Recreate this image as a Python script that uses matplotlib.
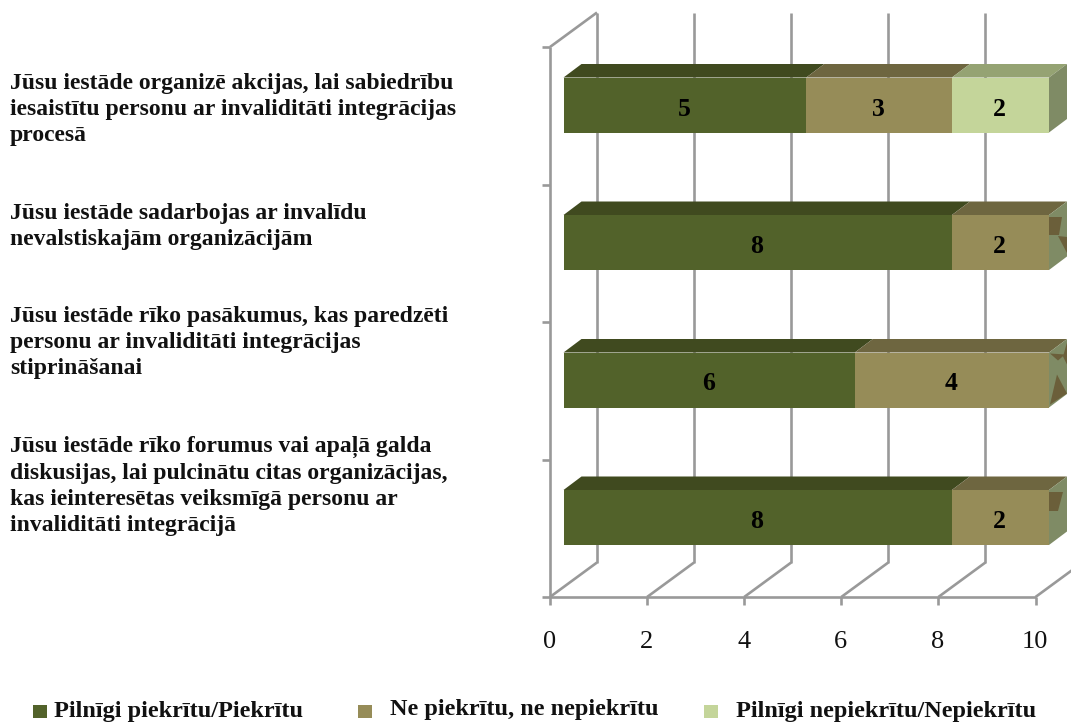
import matplotlib
matplotlib.use("Agg")
import matplotlib.pyplot as plt
from matplotlib.patches import Polygon, Rectangle

W, H = 1071, 722
categories = [
    "Jūsu iestāde rīko forumus vai apaļā galda\ndiskusijas, lai pulcinātu citas organizācijas,\nkas ieinteresētas veiksmīgā personu ar\ninvaliditāti integrācijā",
    "Jūsu iestāde rīko pasākumus, kas paredzēti\npersonu ar invaliditāti integrācijas\nstiprināšanai",
    "Jūsu iestāde sadarbojas ar invalīdu\nnevalstiskajām organizācijām",
    "Jūsu iestāde organizē akcijas, lai sabiedrību\niesaistītu personu ar invaliditāti integrācijas\nprocesā",
]
series_names = ["Pilnīgi piekrītu/Piekrītu", "Ne piekrītu, ne nepiekrītu", "Pilnīgi nepiekrītu/Nepiekrītu"]
agree = [8, 6, 8, 5]
neutral = [2, 4, 2, 3]
disagree = [0, 0, 0, 2]
x_ticks = [0, 2, 4, 6, 8, 10]
label_tops = [436, 306, 203, 73]

front = ["#52622a", "#968c58", "#c4d59a"]
top = ["#404a1f", "#6e6640", "#95a373"]
side = "#7f8b65"
artefact = "#6b5f3a"
grid = "#999999"
FONT = "Liberation Serif"

X0, UX = 550.0, 48.55      # pixel of value 0, pixels per value unit
Y0, UY = 597.0, 137.5      # pixel of category edge 0, pixels per category

fig = plt.figure(figsize=(W / 100, H / 100), dpi=100, facecolor="white")
ax = fig.add_axes([0, 0, 1, 1])
ax.set_xlim(-X0 / UX, (W - X0) / UX)
ax.set_ylim((Y0 - H) / UY, Y0 / UY)
ax.axis("off")

dx = lambda p: p / UX
dy = lambda p: p / UY
ny = len(categories)
LW = 1.9
lk = dict(color=grid, lw=LW, solid_capstyle="butt", zorder=1)
BX, BY = dx(47), dy(34.5)

# walls and grid
ax.plot([0, 0], [0, ny], **lk)
ax.plot([0, x_ticks[-1]], [0, 0], **lk)
ax.plot([0, BX], [ny, ny + BY], **lk)
for t in x_ticks:
    ax.plot([t, t], [0, -dy(8)], **lk)
    ax.plot([t, t + BX], [0, BY], **lk)
    ax.plot([t + BX] * 2, [BY, ny + BY], **lk)
    ax.text(t - dx(0.5), -dy(45), str(t), family=FONT, fontsize=19, ha="center", va="center", color="#111111")
for i in range(ny + 1):
    ax.plot([0, -dx(8)], [i, i], **lk)

# stacked 3D bars
BAR_H = dy(55)
OFF_X, OFF_Y = dx(13.5), dy(52)
DX, DY = dx(18), dy(13.5)
stack = list(zip(agree, neutral, disagree))
for i, vals in enumerate(stack):
    y = i + OFF_Y
    left = 0.0
    for j, v in enumerate(vals):
        if v == 0:
            continue
        x = left + OFF_X
        ax.add_patch(Rectangle((x, y), v, BAR_H, fc=front[j], ec="none", zorder=3))
        ax.add_patch(Polygon([(x, y + BAR_H), (x + v, y + BAR_H), (x + v + DX, y + BAR_H + DY), (x + DX, y + BAR_H + DY)],
                             fc=top[j], ec="none", zorder=3))
        ax.text(x + v / 2 - dx(1), y + BAR_H / 2 - dy(4), str(v), family=FONT, weight="bold", fontsize=18.5,
                ha="center", va="center", color="black", zorder=5)
        left += v
    xe = left + OFF_X
    ax.add_patch(Polygon([(xe, y), (xe + DX, y + DY), (xe + DX, y + BAR_H + DY), (xe, y + BAR_H)],
                         fc=side, ec="none", zorder=3))

def shard(i, pts):
    xe = sum(stack[i]) + OFF_X
    yt = i + OFF_Y + BAR_H
    ax.add_patch(Polygon([(xe + dx(a), yt - dy(b)) for a, b in pts], fc=artefact, ec="none", zorder=4))

shard(2, [(0, 2), (13, 2), (10, 20), (0, 20)])
shard(2, [(9, 21), (18, 22), (18, 38)])
shard(1, [(8, 22), (1, 52), (18, 41)])
shard(1, [(1, 1), (16, 2), (9, 8)])
shard(1, [(18, -10), (18, 12), (14, 4)])
shard(0, [(0, 2), (14, 2), (9, 21), (0, 21)])

# category labels
for i, (lab, ytop) in enumerate(zip(categories, label_tops)):
    ax.text(dx(10) - X0 / UX, (Y0 - ytop) / UY, lab, family=FONT, weight="bold", fontsize=17,
            ha="left", va="top", linespacing=1.31, color="#111111")

# legend
legend_x = [33, 358, 704]
legend_tx = [54, 390, 736]
legend_ty = [712, 709, 712]
for name, c, lx, tx, ty in zip(series_names, front, legend_x, legend_tx, legend_ty):
    ax.add_patch(Rectangle(((lx - X0) / UX, (Y0 - 718) / UY), dx(14), dy(13), fc=c, ec="none"))
    ax.text((tx - X0) / UX, (Y0 - ty) / UY, name, family=FONT, weight="bold", fontsize=17.5,
            ha="left", va="center", color="#111111")

fig.savefig("out.png", dpi=100)
